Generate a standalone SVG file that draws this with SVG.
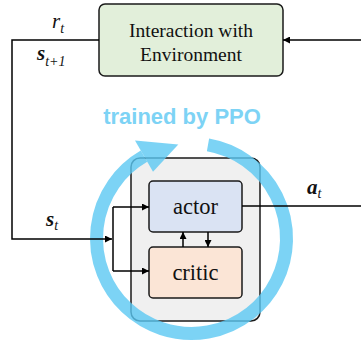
<svg xmlns="http://www.w3.org/2000/svg" width="361" height="345" viewBox="0 0 361 345">
<defs>
<style>
.box{stroke:#1a1a1a;stroke-width:1.5}
.lbl{font-family:"Liberation Serif",serif;fill:#111}
.math{font-family:"Liberation Serif",serif;font-style:italic;fill:#111}
.wire{fill:none;stroke:#000;stroke-width:1.5}
</style>
<marker id="ah" viewBox="0 0 10 10" refX="10" refY="5" markerWidth="7" markerHeight="7" markerUnits="userSpaceOnUse" orient="auto">
<path d="M0,0 L10,5 L0,10 z" fill="#000"/>
</marker>
</defs>
<rect width="361" height="345" fill="#fff"/>
<g id="env">
<rect class="box" x="99" y="4" width="184" height="72" rx="6" fill="#e2efda"/>
<text class="lbl" x="191" y="37" font-size="19.5" text-anchor="middle">Interaction with</text>
<text class="lbl" x="191" y="61" font-size="19.5" text-anchor="middle">Environment</text>
</g>
<g id="agent">
<rect class="box" x="131" y="158" width="129" height="163" rx="9" fill="#f0f0f0"/>
</g>
<g id="ppo-loop">
<path d="M208 144.9 A95 95 0 1 1 144 156.2" fill="none" stroke="#5bc8f2" stroke-opacity="0.8" stroke-width="13"/>
<polygon points="135,140.6 178.3,144.4 153,171.8" fill="#5bc8f2" fill-opacity="0.8"/>
<text x="182" y="124" font-family="Liberation Sans,Arial,sans-serif" font-weight="bold" font-size="22" fill="#7dd3f5" text-anchor="middle">trained by PPO</text>
</g>
<g id="actor">
<rect class="box" x="149" y="181" width="93" height="51" rx="4" fill="#dae3f3"/>
<text class="lbl" x="195.5" y="214" font-size="22.5" text-anchor="middle">actor</text>
</g>
<g id="critic">
<rect class="box" x="149" y="247" width="93" height="51" rx="4" fill="#fbe5d6"/>
<text class="lbl" x="195.5" y="280" font-size="22.5" text-anchor="middle">critic</text>
</g>
<g id="connectors">
<polyline class="wire" points="99,40 12,40 12,239 112,239" marker-end="url(#ah)"/>
<polyline class="wire" points="361,40 283,40" marker-end="url(#ah)"/>
<polyline class="wire" points="113,207 113,271"/>
<polyline class="wire" points="113,207 149,207" marker-end="url(#ah)"/>
<polyline class="wire" points="113,271 149,271" marker-end="url(#ah)"/>
<polyline class="wire" points="183,247 183,232" marker-end="url(#ah)"/>
<polyline class="wire" points="208,232 208,247" marker-end="url(#ah)"/>
<polyline class="wire" points="242,206 361,206"/>
</g>
<g id="labels">
<text class="math" x="52" y="28" font-size="21">r<tspan font-size="14" dy="5">t</tspan></text>
<text class="math" x="37" y="60" font-size="21" font-weight="bold">s<tspan font-size="14" dy="6" font-weight="normal">t+1</tspan></text>
<text class="math" x="46" y="226" font-size="21" font-weight="bold">s<tspan font-size="14" dy="4" font-weight="normal">t</tspan></text>
<text class="math" x="307" y="194" font-size="21" font-weight="bold">a<tspan font-size="14" dy="4" font-weight="normal">t</tspan></text>
</g>
</svg>
